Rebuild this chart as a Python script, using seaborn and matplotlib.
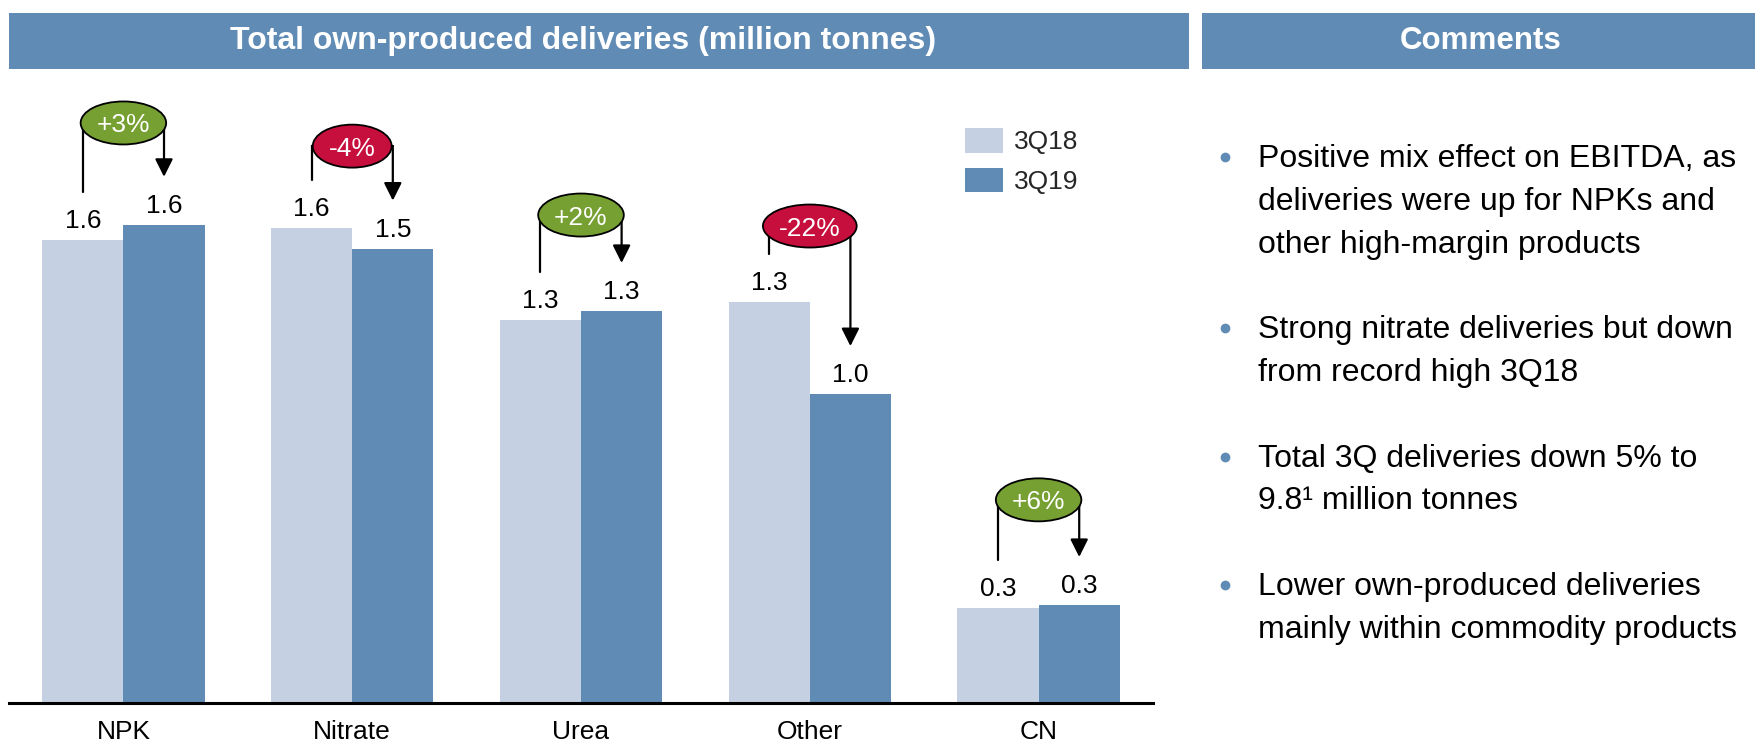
import pandas as pd
import seaborn as sns
import matplotlib.pyplot as plt
from matplotlib.patches import Rectangle, Ellipse, Patch
from matplotlib.lines import Line2D

"""
Data
"""
categories = ["NPK", "Nitrate", "Urea", "Other", "CN"]
periods = ["3Q18", "3Q19"]
deliveries_3q18 = [1.56, 1.60, 1.29, 1.35, 0.32]
deliveries_3q19 = [1.61, 1.53, 1.32, 1.04, 0.33]
labels_3q18 = ["1.6", "1.6", "1.3", "1.3", "0.3"]
labels_3q19 = ["1.6", "1.5", "1.3", "1.0", "0.3"]
changes = ["+3%", "-4%", "+2%", "-22%", "+6%"]

comments = [
    ["Positive mix effect on EBITDA, as",
     "deliveries were up for NPKs and",
     "other high-margin products"],
    ["Strong nitrate deliveries but down",
     "from record high 3Q18"],
    ["Total 3Q deliveries down 5% to",
     "9.8\u00b9 million tonnes"],
    ["Lower own-produced deliveries",
     "mainly within commodity products"],
]

"""
Style
"""
light_blue = "#c5d0e2"
dark_blue = "#5f8bb5"
green = "#76a032"
red = "#c70f3d"

sns.set_style("white")
plt.rcParams["font.family"] = ["Liberation Sans", "DejaVu Sans"]

W, H = 1756, 742
fig = plt.figure(figsize=(W / 100, H / 100), dpi=100)
renderer = fig.canvas.get_renderer()


def fx(px):
    return px / W


def fy(py):
    return 1 - py / H


"""
Bars
"""
df = pd.DataFrame({
    "product": categories * 2,
    "period": [periods[0]] * len(categories) + [periods[1]] * len(categories),
    "value": deliveries_3q18 + deliveries_3q19,
})

ax_left, ax_right, ax_bottom, ax_top = 9, 1153, 703, 75
ax = fig.add_axes([fx(ax_left), fy(ax_bottom), fx(ax_right - ax_left), (ax_bottom - ax_top) / H])
bar_width = 0.71
sns.barplot(data=df, x="product", y="value", hue="period", order=categories,
            hue_order=periods, palette=[light_blue, dark_blue], width=bar_width,
            saturation=1, gap=0, legend=False, ax=ax, edgecolor="none")

y_ppu = 297.0
ax.set_xlim(-0.5, len(categories) - 0.5)
ax.set_ylim(0, (ax_bottom - ax_top) / y_ppu)
x_ppu = (ax_right - ax_left) / len(categories)

ax.set_xlabel("")
ax.set_ylabel("")
ax.set_yticks([])
for s in ["left", "right", "top"]:
    ax.spines[s].set_visible(False)
ax.spines["bottom"].set_color("black")
ax.spines["bottom"].set_linewidth(2.2)
ax.tick_params(axis="x", length=0, pad=12.5, labelsize=19, colors="black")

"""
Value labels and change bubbles
"""
bubble_offsets = [0.343, 0.275, 0.323, 0.256, 0.354]
line_gap = 48 / y_ppu
for i, cat in enumerate(categories):
    x1 = i - bar_width / 4
    x2 = i + bar_width / 4
    v1, v2 = deliveries_3q18[i], deliveries_3q19[i]
    for x, v, lab in [(x1, v1, labels_3q18[i]), (x2, v2, labels_3q19[i])]:
        ax.annotate(lab, (x, v), xytext=(0, 8.6), textcoords="offset points",
                    ha="center", va="baseline", fontsize=19, color="black")

    ey = max(v1, v2) + bubble_offsets[i]
    ax.plot([x1, x1, x2], [v1 + line_gap, ey, ey], color="black", lw=1.6,
            solid_joinstyle="miter", zorder=3)
    ax.annotate("", xy=(x2, v2 + line_gap), xytext=(x2, ey),
                arrowprops=dict(arrowstyle="-|>", color="black", lw=1.6,
                                mutation_scale=27, shrinkA=0, shrinkB=0),
                zorder=3)
    txt = changes[i]
    t = ax.text(i, ey, txt, ha="center", va="center_baseline", fontsize=19,
                color="white", zorder=5)
    tw = t.get_window_extent(renderer).width
    ew = (tw + 32) / x_ppu
    eh = 43 / y_ppu
    ax.add_patch(Ellipse((i, ey), ew, eh, facecolor=green if txt.startswith("+") else red,
                         edgecolor="black", lw=1.3, zorder=4))

"""
Legend
"""
handles = [Patch(facecolor=light_blue, edgecolor="none"),
           Patch(facecolor=dark_blue, edgecolor="none")]
fig.legend(handles, periods, loc="upper left", bbox_to_anchor=(fx(965), fy(128)),
           bbox_transform=fig.transFigure, frameon=False, fontsize=19,
           handlelength=1.45, handleheight=1.06, handletextpad=0.4,
           labelspacing=0.5, borderpad=0, borderaxespad=0)

"""
Header bars
"""
headers = [(9, 1189, 583, "Total own-produced deliveries (million tonnes)", 23),
           (1202, 1756, 1481, "Comments", 22.5)]
for x0, x1, xc, title, fs in headers:
    fig.add_artist(Rectangle((fx(x0), fy(69)), fx(x1 - x0), (69 - 13) / H,
                             transform=fig.transFigure, facecolor=dark_blue,
                             edgecolor="none"))
    fig.text(fx(xc), fy(41), title, ha="center", va="center",
             fontsize=fs, fontweight="bold", color="white")

"""
Comments
"""
line_pitch = 42.8
first_baseline = 167
line_idx = 0
for para in comments:
    base = first_baseline + line_idx * line_pitch
    fig.add_artist(Line2D([fx(1225)], [fy(base - 10)], marker="o", ms=6,
                          color=dark_blue, transform=fig.transFigure))
    for j, line in enumerate(para):
        fig.text(fx(1258), fy(base + j * line_pitch), line, ha="left",
                 va="baseline", fontsize=23, color="black")
    line_idx += len(para) + 1

plt.savefig("out.png", dpi=100)
